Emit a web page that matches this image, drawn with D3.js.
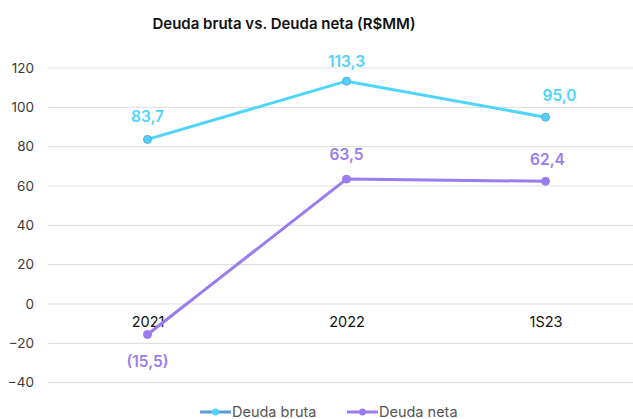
<!DOCTYPE html>
<html>
<head>
<meta charset="utf-8">
<script src="https://cdn.jsdelivr.net/npm/d3@7"></script>
<style>
  body { margin: 0; background: #fff; }
  svg { display: block; font-family: Inter, "Open Sans", sans-serif; }
</style>
</head>
<body>
<script>
// chart data
const categories = ["2021", "2022", "1S23"]
const deudaBruta = [83.7, 113.3, 95.0]
const deudaNeta = [-15.5, 63.5, 62.4]
const yTicks = [-40, -20, 0, 20, 40, 60, 80, 100, 120]
const valueLabels = {
    bruta: ["83,7", "113,3", "95,0"],
    neta: ["(15,5)", "63,5", "62,4"]
}

const width = 633
const height = 419

const colBruta = "#4fd5fb"
const colNeta = "#9b7cf0"

const svg = d3.select("body").append("svg")
    .attr("width", width)
    .attr("height", height)

const x = d3.scalePoint().domain(categories).range([48, 645]).padding(0.5)
const y = d3.scaleLinear().domain([0, 120]).range([304, 68])

// title
svg.append("text")
    .attr("x", 284).attr("y", 29)
    .attr("text-anchor", "middle")
    .attr("font-size", 15)
    .attr("font-weight", 600)
    .attr("fill", "#111")
    .text("Deuda bruta vs. Deuda neta (R$MM)")

// grid lines
svg.append("g").selectAll("line")
    .data(yTicks)
    .join("line")
      .attr("x1", 48).attr("x2", width)
      .attr("y1", d => y(d)).attr("y2", d => y(d))
      .attr("stroke", "#e2e2e2")
      .attr("stroke-width", 1.2)

// y axis labels
const yAxis = svg.append("g")
    .attr("transform", "translate(48,0)")
    .call(d3.axisLeft(y).tickValues(yTicks).tickSize(0).tickPadding(14))
yAxis.select(".domain").remove()
yAxis.selectAll("text")
    .attr("font-size", 13.5)
    .attr("font-family", "Inter, sans-serif")
    .attr("fill", "#3a3a3a")

// category labels sit just under the zero line
const xAxis = svg.append("g")
    .attr("transform", "translate(0," + y(0) + ")")
    .call(d3.axisBottom(x).tickSize(0).tickPadding(13))
xAxis.select(".domain").remove()
xAxis.selectAll("text")
    .attr("font-size", 14.5)
    .attr("font-family", "Inter, sans-serif")
    .attr("fill", "#111")

const line = d3.line().x((d, i) => x(categories[i])).y(d => y(d))

const series = [
    {key: "bruta", values: deudaBruta, color: colBruta, dx: [0, 0, 14], dy: [-17, -14, -16]},
    {key: "neta", values: deudaNeta, color: colNeta, dx: [0, 0, 2], dy: [33, -19, -16]}
]

series.forEach(s => {
    svg.append("path")
        .attr("d", line(s.values))
        .attr("fill", "none")
        .attr("stroke", s.color)
        .attr("stroke-width", 3)
        .attr("stroke-linejoin", "round")

    svg.append("g").selectAll("circle")
        .data(s.values)
        .join("circle")
          .attr("cx", (d, i) => x(categories[i]))
          .attr("cy", d => y(d))
          .attr("r", 4)
          .attr("fill", s.color)
          .attr("stroke", s.key == "bruta" ? "#5aa8e0" : s.color)
          .attr("stroke-width", 1)

    svg.append("g").selectAll("text")
        .data(s.values)
        .join("text")
          .attr("x", (d, i) => x(categories[i]) + s.dx[i])
          .attr("y", (d, i) => y(d) + s.dy[i])
          .attr("text-anchor", "middle")
          .attr("font-size", 15.5)
          .attr("font-weight", 600)
          .attr("fill", s.color)
          .text((d, i) => valueLabels[s.key][i])
})

// legend
const legend = [
    {name: "Deuda bruta", line: "#5b9bd5", dot: colBruta, x: 200},
    {name: "Deuda neta", line: colNeta, dot: colNeta, x: 347}
]
const lg = svg.append("g").selectAll("g")
    .data(legend)
    .join("g")
      .attr("transform", d => "translate(" + d.x + ",412)")
lg.append("line")
    .attr("x1", 0).attr("x2", 31)
    .attr("stroke", d => d.line)
    .attr("stroke-width", 3)
lg.append("circle")
    .attr("cx", 15.5).attr("r", 3.5)
    .attr("fill", d => d.dot)
lg.append("text")
    .attr("x", 32).attr("y", 5)
    .attr("font-size", 14.5)
    .attr("fill", "#555")
    .text(d => d.name)
</script>
</body>
</html>
